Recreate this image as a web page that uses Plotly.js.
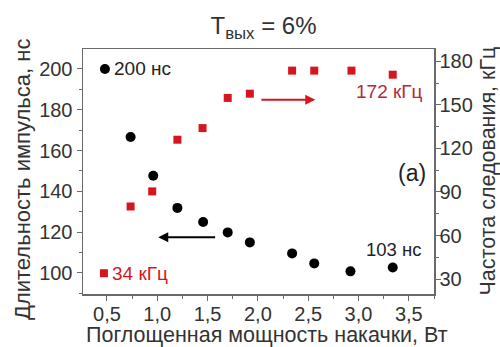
<!DOCTYPE html>
<html><head><meta charset="utf-8">
<script src="https://cdn.plot.ly/plotly-3.0.1.min.js"></script>
<style>html,body{margin:0;padding:0;background:#fff;}#chart{width:500px;height:347px;}</style>
</head><body><div id="chart"></div>
<script>
// Absorbed pump power, W
const powerW = [0.48, 0.735, 0.96, 1.2, 1.456, 1.70, 1.92, 2.34, 2.56, 2.92, 3.34];
// Pulse duration, ns (left axis)
const pulseNs = [200, 166.7, 147.7, 131.9, 125, 119.9, 115, 109.6, 104.7, 100.8, 102.7];
// Repetition rate, kHz (right axis)
const powerW2 = [0.47, 0.735, 0.95, 1.2, 1.45, 1.70, 1.92, 2.34, 2.56, 2.93, 3.34];
const repKHz = [34, 80, 90.4, 126, 134, 154.8, 157.7, 173.6, 173.6, 173.6, 170.8];

const xTicks = [0.5, 1.0, 1.5, 2.0, 2.5, 3.0, 3.5];
const yTicks = [100, 120, 140, 160, 180, 200];
const y2Ticks = [30, 60, 90, 120, 150, 180];

const xTitle = 'Поглощенная мощность накачки, Вт';
const yTitle = 'Длительность импульса, нс';
const y2Title = 'Частота следования, кГц';

const fontFam = '"Liberation Sans", Arial, sans-serif';
const axColor = '#6a6a6a';
const txtColor = '#333';
const redC = 'rgb(214,22,30)';

// plot-area geometry (pixels) used to place the axis titles
const M = {l: 83, r: 66, t: 49, b: 53};
const W = 500, H = 347;
const pw = W - M.l - M.r, ph = H - M.t - M.b;
const px = v => (v - M.l) / pw;
const py = v => (H - M.b - v) / ph;

const traces = [
  {x: powerW, y: pulseNs, type: 'scatter', mode: 'markers', yaxis: 'y',
   marker: {color: '#000', size: 10, symbol: 'circle'}, showlegend: false},
  {x: powerW2, y: repKHz, type: 'scatter', mode: 'markers', yaxis: 'y2',
   marker: {color: redC, size: 8, symbol: 'square'}, showlegend: false}
];

const layout = {
  width: W, height: H,
  margin: M,
  paper_bgcolor: '#fff', plot_bgcolor: '#fff',
  separators: ', ',
  font: {family: fontFam, color: txtColor, size: 20},
  title: {text: 'T<sub>вых</sub> = 6%', x: 263.5 / W, xanchor: 'center', y: 1 - 26 / H, yanchor: 'middle',
          font: {size: 24, color: txtColor, family: fontFam}},
  xaxis: {range: [0.262, 3.75], tickvals: xTicks, tickformat: '.1f', tickangle: 0,
          showline: true, linecolor: axColor, linewidth: 1.5, mirror: true,
          ticks: 'outside', ticklen: 5, tickcolor: axColor, showgrid: false, zeroline: false,
          ticklabelstandoff: -4,
          minor: {ticks: 'outside', ticklen: 3, dtick: 0.25, tick0: 0, tickcolor: axColor},
          tickfont: {size: 20, color: txtColor}},
  yaxis: {range: [89.7, 209.8], tickvals: yTicks,
          showline: true, linecolor: axColor, linewidth: 1.5,
          ticks: 'outside', ticklen: 5, tickcolor: axColor, showgrid: false, zeroline: false,
          minor: {ticks: 'outside', ticklen: 3, dtick: 10, tick0: 0, tickcolor: axColor},
          tickfont: {size: 20, color: txtColor}},
  yaxis2: {range: [19.7, 188.5], tickvals: y2Ticks, overlaying: 'y', side: 'right',
          showline: true, linecolor: axColor, linewidth: 1.5,
          ticks: 'outside', ticklen: 5, tickcolor: axColor, showgrid: false, zeroline: false,
          ticklabelstandoff: -5,
          minor: {ticks: 'outside', ticklen: 3, dtick: 15, tick0: 0, tickcolor: axColor},
          tickfont: {size: 20, color: txtColor}},
  annotations: [
    {x: px(267), y: py(335), xref: 'paper', yref: 'paper', text: xTitle, showarrow: false,
     xanchor: 'center', yanchor: 'middle', font: {size: 21.5, color: txtColor}},
    {x: px(22), y: py(180), xref: 'paper', yref: 'paper', text: yTitle, showarrow: false, textangle: -90,
     xanchor: 'center', yanchor: 'middle', font: {size: 22, color: txtColor}},
    {x: px(487.5), y: py(171), xref: 'paper', yref: 'paper', text: y2Title, showarrow: false, textangle: -90,
     xanchor: 'center', yanchor: 'middle', font: {size: 21.5, color: txtColor}},
    {x: 0.55, y: 200, xref: 'x', yref: 'y', text: '200 нс', showarrow: false, xanchor: 'left', yanchor: 'middle',
     font: {size: 19, color: '#222'}},
    {x: 0.53, y: 33.7, xref: 'x', yref: 'y2', text: '34 кГц', showarrow: false, xanchor: 'left', yanchor: 'middle',
     font: {size: 19, color: redC}},
    {x: 3.66, y: 159, xref: 'x', yref: 'y2', text: '172 кГц', showarrow: false, xanchor: 'right', yanchor: 'middle',
     font: {size: 19, color: '#b02a3a'}},
    {x: 3.64, y: 111.4, xref: 'x', yref: 'y', text: '103 нс', showarrow: false, xanchor: 'right', yanchor: 'middle',
     font: {size: 18.5, color: '#222'}},
    {x: 3.53, y: 149, xref: 'x', yref: 'y', text: '(a)', showarrow: false, xanchor: 'center', yanchor: 'middle',
     font: {size: 23, color: '#222'}},
    {x: 1.01, y: 117.5, xref: 'x', yref: 'y', ax: 1.59, ay: 117.5, axref: 'x', ayref: 'y',
     text: '', showarrow: true, arrowhead: 2, arrowsize: 1, arrowwidth: 2, arrowcolor: '#000'},
    {x: 2.57, y: 153.6, xref: 'x', yref: 'y2', ax: 2.02, ay: 153.6, axref: 'x', ayref: 'y2',
     text: '', showarrow: true, arrowhead: 2, arrowsize: 1, arrowwidth: 2, arrowcolor: redC}
  ]
};

Plotly.newPlot('chart', traces, layout, {displayModeBar: false, staticPlot: true});
</script>
</body></html>
